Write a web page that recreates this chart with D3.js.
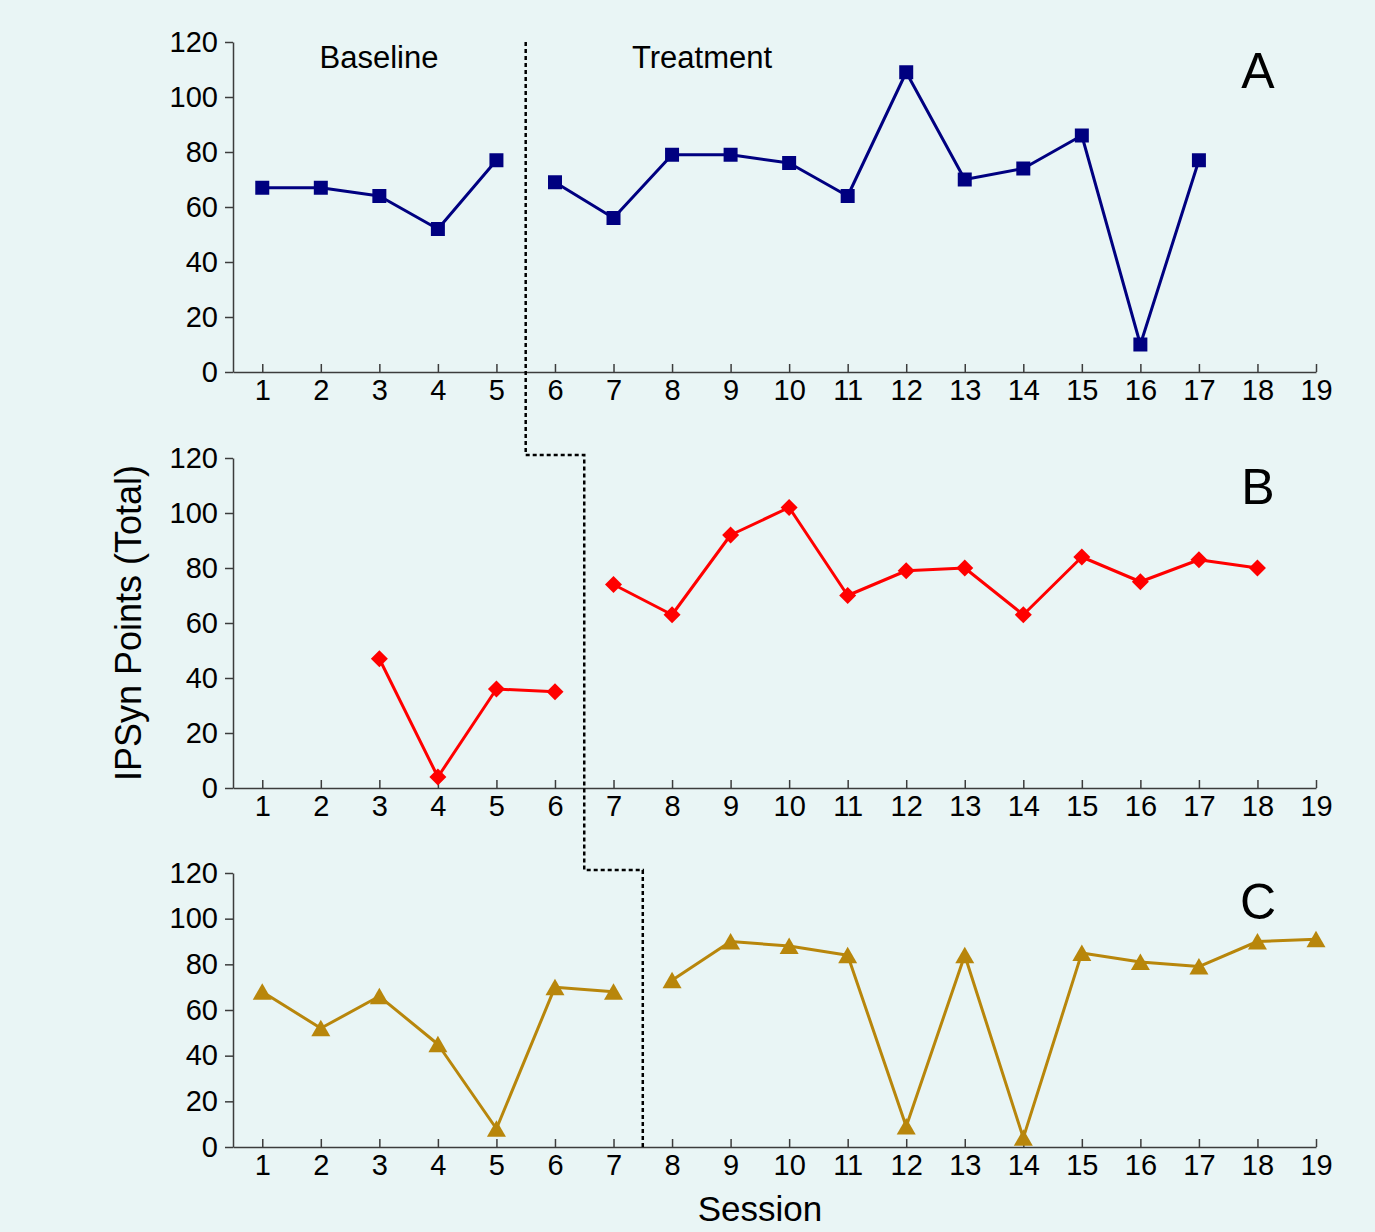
<!DOCTYPE html>
<html>
<head>
<meta charset="utf-8">
<script src="https://cdn.jsdelivr.net/npm/d3@7"></script>
<style>
  html, body { margin: 0; padding: 0; background: #e9f5f5; overflow: hidden; }
  svg { display: block; font-family: "Liberation Sans", Arial, sans-serif; }
</style>
</head>
<body>
<svg id="chart" width="1375" height="1232"></svg>
<script>
// Session numbers on the x axis and IPSyn point ticks on the y axes
const sessionTicks = [1, 2, 3, 4, 5, 6, 7, 8, 9, 10, 11, 12, 13, 14, 15, 16, 17, 18, 19];
const pointTicks = [0, 20, 40, 60, 80, 100, 120];

// Participant A
const aBaselineSessions = [1, 2, 3, 4, 5];
const aBaseline = [67, 67, 64, 52, 77];
const aTreatmentSessions = [6, 7, 8, 9, 10, 11, 12, 13, 14, 15, 16, 17];
const aTreatment = [69, 56, 79, 79, 76, 64, 109, 70, 74, 86, 10, 77];

// Participant B
const bBaselineSessions = [3, 4, 5, 6];
const bBaseline = [47, 4, 36, 35];
const bTreatmentSessions = [7, 8, 9, 10, 11, 12, 13, 14, 15, 16, 17, 18];
const bTreatment = [74, 63, 92, 102, 70, 79, 80, 63, 84, 75, 83, 80];

// Participant C
const cBaselineSessions = [1, 2, 3, 4, 5, 6, 7];
const cBaseline = [68, 52, 66, 45, 8, 70, 68];
const cTreatmentSessions = [8, 9, 10, 11, 12, 13, 14, 15, 16, 17, 18, 19];
const cTreatment = [73, 90, 88, 84, 9, 84, 4, 85, 81, 79, 90, 91];

// Phase change points (between sessions) for each participant
const phaseChanges = [5.5, 6.5, 7.5];

const W = 1375, H = 1232;
const svg = d3.select("#chart");
svg.append("rect").attr("width", W).attr("height", H).attr("fill", "#e9f5f5");

const x = d3.scaleLinear().domain([0.5, 19]).range([233, 1316]);
const axisColor = "#3c3c3c";

const panels = [
  { name: "A", top: 42, bottom: 372, color: "#000080", shape: "square",
    phases: [[aBaselineSessions, aBaseline], [aTreatmentSessions, aTreatment]] },
  { name: "B", top: 458, bottom: 788, color: "#ff0000", shape: "diamond",
    phases: [[bBaselineSessions, bBaseline], [bTreatmentSessions, bTreatment]] },
  { name: "C", top: 873, bottom: 1147, color: "#b8860b", shape: "triangle",
    phases: [[cBaselineSessions, cBaseline], [cTreatmentSessions, cTreatment]] }
];
panels.forEach(p => {
  p.y = d3.scaleLinear().domain([0, 120]).range([p.bottom, p.top]);
});

// Marker shapes
const markerPath = {
  square: "M-7,-7H7V7H-7Z",
  diamond: "M0,-8.5L8.5,0L0,8.5L-8.5,0Z",
  triangle: "M0,-8.5L9.5,8H-9.5Z"
};

// Axes
panels.forEach(p => {
  const gy = svg.append("g")
    .attr("transform", `translate(${x.range()[0]},0)`)
    .call(d3.axisLeft(p.y).tickValues(pointTicks).tickSize(8).tickSizeOuter(0).tickPadding(7));
  const gx = svg.append("g")
    .attr("transform", `translate(0,${p.bottom})`)
    .call(d3.axisBottom(x).tickValues(sessionTicks).tickSizeInner(-8).tickSizeOuter(0).tickPadding(7));
  [gy, gx].forEach(g => {
    g.attr("font-family", null).attr("font-size", null);
    g.selectAll(".domain, .tick line").attr("stroke", axisColor).attr("stroke-width", 1.5);
    g.selectAll(".tick text").attr("fill", "#000").style("font-size", "29px");
  });
});

// Phase change line, stepping down through the panels
const [pA, pB, pC] = panels;
const stepGap = 3;
const phasePts = [
  [x(phaseChanges[0]), pA.top],
  [x(phaseChanges[0]), pB.top - stepGap],
  [x(phaseChanges[1]), pB.top - stepGap],
  [x(phaseChanges[1]), pC.top - stepGap],
  [x(phaseChanges[2]), pC.top - stepGap],
  [x(phaseChanges[2]), pC.bottom]
];
svg.append("path")
  .attr("d", d3.line()(phasePts))
  .attr("fill", "none")
  .attr("stroke", "#000")
  .attr("stroke-width", 2.5)
  .attr("stroke-dasharray", "4,3");

// Data series
panels.forEach(p => {
  const line = d3.line().x(d => x(d[0])).y(d => p.y(d[1]));
  p.phases.forEach(([sessions, values]) => {
    const pts = sessions.map((s, i) => [s, values[i]]);
    svg.append("path")
      .attr("d", line(pts))
      .attr("fill", "none")
      .attr("stroke", p.color)
      .attr("stroke-width", 3)
      .attr("stroke-linejoin", "round");
    svg.append("g").selectAll("path")
      .data(pts)
      .join("path")
      .attr("transform", d => `translate(${x(d[0])},${p.y(d[1])})`)
      .attr("d", markerPath[p.shape])
      .attr("fill", p.color);
  });
  svg.append("text")
    .attr("x", 1258)
    .attr("y", p.y(120) + 46)
    .attr("text-anchor", "middle")
    .style("font-size", "50px")
    .attr("fill", "#000")
    .text(p.name);
});

// Phase titles
svg.append("text").attr("x", 379).attr("y", 68).attr("text-anchor", "middle")
  .style("font-size", "31px").text("Baseline");
svg.append("text").attr("x", 702).attr("y", 68).attr("text-anchor", "middle")
  .style("font-size", "31px").text("Treatment");

// Axis titles
svg.append("text")
  .attr("transform", "translate(141,623) rotate(-90)")
  .attr("text-anchor", "middle")
  .style("font-size", "36px")
  .text("IPSyn Points (Total)");
svg.append("text")
  .attr("x", 760).attr("y", 1221)
  .attr("text-anchor", "middle")
  .style("font-size", "35px")
  .text("Session");
</script>
</body>
</html>
